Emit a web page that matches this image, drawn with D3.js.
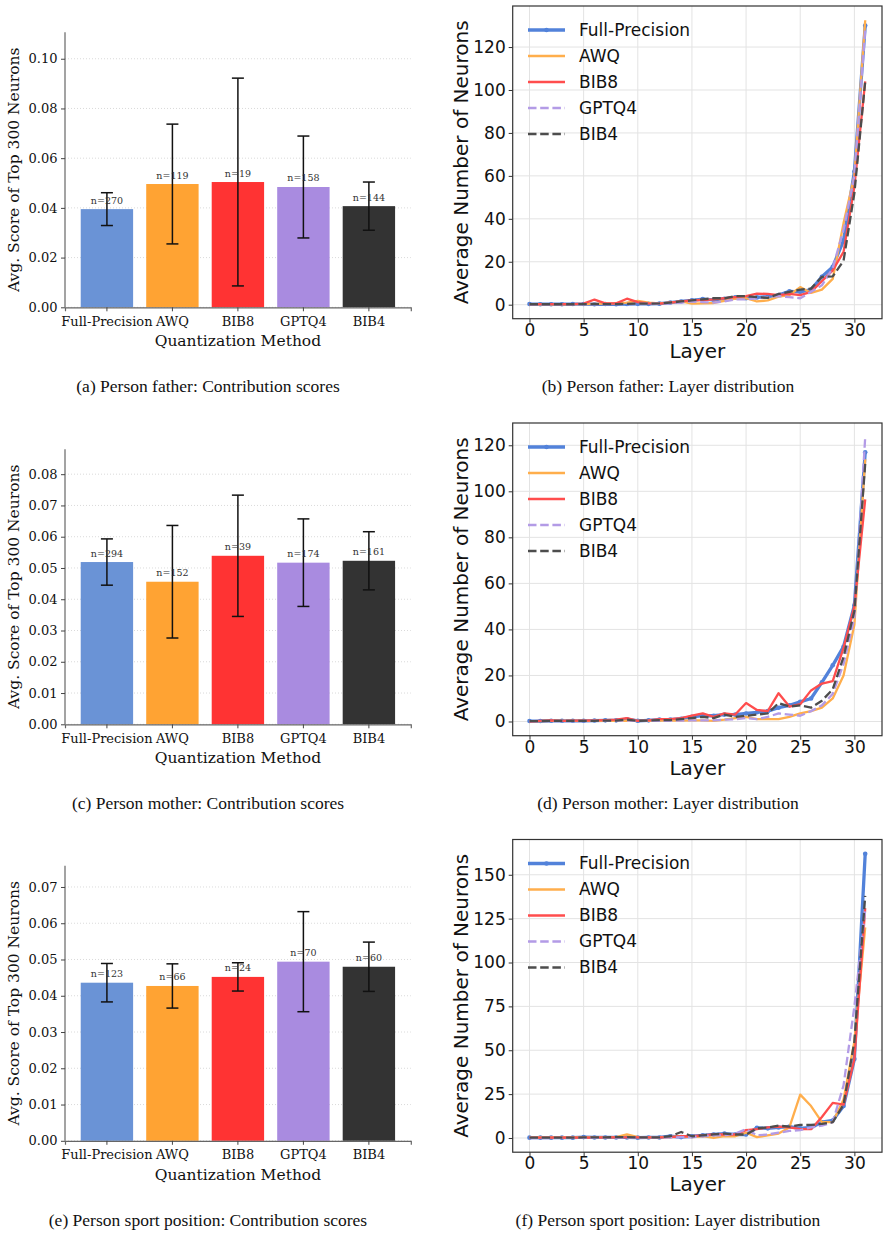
<!DOCTYPE html>
<html lang="en">
<head>
<meta charset="utf-8">
<script src="https://cdn.jsdelivr.net/npm/d3@7"></script>
<style>
  body { margin: 0; background: #fff; }
</style>
</head>
<body>
<script>
var width = 889;
var height = 1235;

var methods = ["Full-Precision", "AWQ", "BIB8", "GPTQ4", "BIB4"];
var barColours = ["#6a93d6", "#ffa333", "#ff3333", "#a98be0", "#333333"];

// contribution scores (mean, std, n) per method
var fatherScore = [0.0395, 0.0496, 0.0504, 0.0484, 0.0407];
var fatherStd   = [0.0066, 0.0241, 0.0418, 0.0205, 0.0097];
var fatherN     = [270, 119, 19, 158, 144];

var motherScore = [0.0519, 0.0456, 0.0539, 0.0517, 0.0523];
var motherStd   = [0.0074, 0.0180, 0.0194, 0.0140, 0.0093];
var motherN     = [294, 152, 39, 174, 161];

var sportScore  = [0.0436, 0.0427, 0.0452, 0.0494, 0.0480];
var sportStd    = [0.0053, 0.0061, 0.0039, 0.0138, 0.0068];
var sportN      = [123, 66, 24, 70, 60];

var fatherScoreTicks = [0, 0.02, 0.04, 0.06, 0.08, 0.10];
var motherScoreTicks = [0, 0.01, 0.02, 0.03, 0.04, 0.05, 0.06, 0.07, 0.08];
var sportScoreTicks  = [0, 0.01, 0.02, 0.03, 0.04, 0.05, 0.06, 0.07];

// layer distribution, layers 0..31
var layers = d3.range(32);
var layerTicks = [0, 5, 10, 15, 20, 25, 30];

var fatherFP    = [0.3,0.2,0.2,0.2,0.3,0.3,0.2,0.3,0.2,0.3,0.4,0.4,0.5,1.0,1.5,2.0,2.6,2.2,2.8,3.4,3.0,3.4,3.8,4.5,6.2,6.0,7.0,13.0,17.6,30.0,62.0,130.0];
var fatherAWQ   = [0.2,0.2,0.2,0.2,0.3,0.3,0.4,0.5,0.6,1.0,1.8,1.0,0.6,1.0,1.5,0.5,0.6,0.8,1.8,2.8,3.0,1.5,2.0,3.8,4.5,8.2,5.5,7.0,12.0,38.0,60.0,132.5];
var fatherBIB8  = [0.3,0.3,0.3,0.3,0.3,0.5,2.4,0.6,0.6,2.8,1.2,0.6,0.5,1.0,1.5,2.0,2.2,2.5,3.0,3.5,4.0,5.2,5.0,4.5,5.0,4.5,6.0,11.0,16.0,24.6,55.0,104.0];
var fatherGPTQ4 = [0.1,0.1,0.1,0.1,0.1,0.2,0.2,0.2,0.3,0.3,0.4,0.5,0.5,0.6,1.0,1.5,1.2,1.0,1.5,2.5,2.5,3.0,3.5,4.0,3.5,3.0,6.0,9.0,17.0,35.0,60.0,128.0];
var fatherBIB4  = [0.2,0.2,0.2,0.2,0.2,0.3,0.3,0.3,0.3,0.4,0.5,0.5,0.6,1.0,1.5,2.0,2.5,3.0,3.0,4.0,4.0,3.5,3.2,5.0,6.0,7.0,7.5,13.0,13.2,20.5,52.0,104.0];

var motherFP    = [0.2,0.2,0.3,0.3,0.3,0.3,0.4,0.5,0.5,1.0,0.3,0.5,0.8,0.8,1.2,2.0,2.5,2.5,3.0,3.0,3.5,4.0,4.5,6.0,7.0,8.5,10.0,17.0,24.4,32.5,50.5,117.0];
var motherAWQ   = [0.2,0.2,0.3,0.3,0.3,0.3,0.3,0.3,0.3,0.4,0.3,0.3,0.4,0.4,0.4,0.5,0.5,0.3,0.8,1.5,2.0,1.0,1.0,1.0,2.0,3.5,4.5,6.0,10.0,20.0,42.0,114.0];
var motherBIB8  = [0.0,0.3,0.5,0.3,0.4,0.4,0.5,0.6,0.8,1.5,0.3,0.5,1.0,1.0,1.5,2.5,3.5,2.0,3.5,3.0,8.0,5.0,4.5,12.3,6.5,7.5,13.5,16.5,17.5,32.0,50.0,96.5];
var motherGPTQ4 = [0.2,0.2,0.2,0.2,0.2,0.2,0.3,0.3,0.3,0.4,0.3,0.3,0.3,0.3,0.4,0.5,0.5,0.5,0.8,1.0,1.5,1.0,2.0,3.5,3.0,2.5,4.5,7.0,12.0,25.0,45.0,123.5];
var motherBIB4  = [0.2,0.2,0.3,0.3,0.3,0.3,0.3,0.4,0.4,0.8,0.3,0.4,0.6,0.6,1.0,1.5,2.0,1.5,3.0,2.0,2.5,3.0,3.5,8.0,6.5,7.0,6.0,9.0,14.0,28.0,48.0,112.0];

var sportFP     = [0.2,0.2,0.2,0.2,0.2,0.5,0.3,0.3,0.3,0.3,0.2,0.3,0.3,1.0,0.5,1.0,1.5,2.0,2.5,2.0,2.0,5.8,5.5,6.0,6.5,5.5,6.0,9.0,10.0,18.2,45.0,162.0];
var sportAWQ    = [0.3,0.3,0.3,0.3,0.3,0.3,0.3,0.3,0.5,2.0,0.5,0.3,0.5,0.5,1.0,0.5,1.0,0.0,1.0,1.0,3.0,0.5,1.5,2.5,6.0,24.7,18.2,9.0,9.0,22.0,55.0,120.0];
var sportBIB8   = [0.2,0.2,0.2,0.2,0.2,0.2,0.2,0.3,0.3,0.3,0.3,0.3,0.4,0.5,1.0,1.0,1.5,2.0,2.0,2.0,4.5,5.0,6.0,6.5,6.0,5.0,5.0,12.0,20.0,19.0,45.0,131.0];
var sportGPTQ4  = [0.0,0.0,0.0,0.1,0.1,0.1,0.1,0.2,0.2,0.2,0.2,0.3,0.3,0.3,0.5,0.5,1.0,1.5,1.5,2.5,5.0,1.5,2.0,3.0,4.0,4.5,6.0,7.0,9.0,30.0,75.0,130.0];
var sportBIB4   = [0.2,0.2,0.2,0.2,0.2,0.3,0.3,0.3,0.5,0.5,0.3,0.3,0.4,1.0,3.4,1.0,1.5,2.0,2.5,2.0,2.0,5.5,6.0,7.0,6.5,7.5,7.5,8.0,9.0,19.0,55.0,138.0];

var countTicks = [0, 20, 40, 60, 80, 100, 120];
var sportCountTicks = [0, 25, 50, 75, 100, 125, 150];

var lineStyles = [
  { name: "Full-Precision", colour: "#5282da", width: 3.3, dash: null,      dots: true },
  { name: "AWQ",            colour: "#ffae4c", width: 2.3, dash: null,      dots: false },
  { name: "BIB8",           colour: "#ff4d4d", width: 2.3, dash: null,      dots: false },
  { name: "GPTQ4",          colour: "#b39be6", width: 2.3, dash: "8.5,3.7", dots: false },
  { name: "BIB4",           colour: "#4d4d4d", width: 2.3, dash: "8.5,3.7", dots: false }
];

var captions = [
  ["(a) Person father: Contribution scores", "(b) Person father: Layer distribution"],
  ["(c) Person mother: Contribution scores", "(d) Person mother: Layer distribution"],
  ["(e) Person sport position: Contribution scores", "(f) Person sport position: Layer distribution"]
];

var rowOffset = [0, 417, 833.5];

var svg = d3.select("body")
            .append("svg")
            .attr("id", "canvas")
            .attr("width", width)
            .attr("height", height);

var serif = "'DejaVu Serif', serif";
var sans = "'DejaVu Sans', sans-serif";

function drawBars(dy, score, std, n, ticks) {
  var left = 65, right = 410.8, top = 32.3 + dy, bottom = 307.3 + dy;
  var g = svg.append("g");

  var ymax = d3.max(score.map(function(d, i) { return d + std[i]; })) * 1.2;
  var y = d3.scaleLinear().domain([0, ymax]).range([bottom, top]);
  var x = d3.scaleBand().domain(methods).range([left, right]).paddingInner(0.2).paddingOuter(0.24);

  // dotted grid
  g.selectAll(".grid").data(ticks).enter().append("line")
    .attr("x1", left).attr("x2", right)
    .attr("y1", function(d) { return y(d); }).attr("y2", function(d) { return y(d); })
    .attr("stroke", "#d0d0d0").attr("stroke-width", 0.8).attr("stroke-dasharray", "1,2");

  g.selectAll(".bar").data(methods).enter().append("rect")
    .attr("x", function(d) { return x(d); })
    .attr("width", x.bandwidth())
    .attr("y", function(d, i) { return y(score[i]); })
    .attr("height", function(d, i) { return bottom - y(score[i]); })
    .attr("fill", function(d, i) { return barColours[i]; });

  // error bars
  methods.forEach(function(m, i) {
    var cx = x(m) + x.bandwidth() / 2;
    var lo = y(score[i] - std[i]), hi = y(score[i] + std[i]);
    g.append("line").attr("x1", cx).attr("x2", cx).attr("y1", lo).attr("y2", hi)
      .attr("stroke", "#111").attr("stroke-width", 1.5);
    [lo, hi].forEach(function(v) {
      g.append("line").attr("x1", cx - 6).attr("x2", cx + 6).attr("y1", v).attr("y2", v)
        .attr("stroke", "#111").attr("stroke-width", 1.5);
    });
    g.append("text").attr("x", cx).attr("y", y(score[i]) - 5.5)
      .attr("text-anchor", "middle").attr("font-family", serif).attr("font-size", 9.5)
      .attr("fill", "#333").text("n=" + n[i]);
  });

  var yAxis = d3.axisLeft(y).tickValues(ticks).tickFormat(d3.format(".2f")).tickSizeOuter(0).tickSize(4).tickPadding(3.5);
  var xAxis = d3.axisBottom(x).tickSizeOuter(0).tickSize(4).tickPadding(5);

  var ya = g.append("g").attr("transform", "translate(" + left + ",0)").call(yAxis);
  ya.select(".domain").attr("stroke", "#666").attr("stroke-width", 1.2).attr("d", "M0," + top + "V" + bottom);
  var xa = g.append("g").attr("transform", "translate(0," + bottom + ")").call(xAxis);
  xa.select(".domain").attr("stroke", "#666").attr("stroke-width", 1.2);
  [ya, xa].forEach(function(a) {
    a.selectAll(".tick line").attr("stroke", "#444");
    a.selectAll("text").attr("font-family", serif).attr("font-size", 13).attr("fill", "#111");
  });

  g.append("text").attr("x", (left + right) / 2).attr("y", bottom + 39)
    .attr("text-anchor", "middle").attr("font-family", serif).attr("font-size", 15.5)
    .attr("fill", "#111").text("Quantization Method");
  g.append("text").attr("transform", "translate(19," + ((top + bottom) / 2) + ") rotate(-90)")
    .attr("text-anchor", "middle").attr("font-family", serif).attr("font-size", 15.5)
    .attr("fill", "#111").text("Avg. Score of Top 300 Neurons");
}

function drawLines(dy, series, ticks) {
  var left = 512.7, right = 882, top = 6 + dy, bottom = 318.7 + dy;
  var g = svg.append("g");

  var x = d3.scaleLinear().domain([-1.55, 32.55]).range([left, right]);
  var lo = d3.min(series, function(s) { return d3.min(s); });
  var hi = d3.max(series, function(s) { return d3.max(s); });
  var pad = (hi - lo) * 0.05;
  var y = d3.scaleLinear().domain([lo - pad, hi + pad]).range([bottom, top]);

  // grid
  g.selectAll(".gx").data(layerTicks).enter().append("line")
    .attr("x1", function(d) { return x(d); }).attr("x2", function(d) { return x(d); })
    .attr("y1", top).attr("y2", bottom).attr("stroke", "#e3e3e3").attr("stroke-width", 1);
  g.selectAll(".gy").data(ticks).enter().append("line")
    .attr("x1", left).attr("x2", right)
    .attr("y1", function(d) { return y(d); }).attr("y2", function(d) { return y(d); })
    .attr("stroke", "#e3e3e3").attr("stroke-width", 1);

  var line = d3.line().x(function(d, i) { return x(layers[i]); }).y(function(d) { return y(d); });

  series.forEach(function(s, k) {
    var st = lineStyles[k];
    g.append("path").datum(s).attr("d", line)
      .attr("fill", "none").attr("stroke", st.colour).attr("stroke-width", st.width)
      .attr("stroke-dasharray", st.dash).attr("stroke-linejoin", "round");
    if (st.dots) {
      g.selectAll(".dot" + k).data(s).enter().append("circle")
        .attr("cx", function(d, i) { return x(layers[i]); })
        .attr("cy", function(d) { return y(d); })
        .attr("r", 2.3).attr("fill", st.colour);
    }
  });

  // frame
  g.append("rect").attr("x", left).attr("y", top).attr("width", right - left).attr("height", bottom - top)
    .attr("fill", "none").attr("stroke", "#333").attr("stroke-width", 1.2);

  var xAxis = d3.axisBottom(x).tickValues(layerTicks).tickSize(4).tickPadding(1);
  var yAxis = d3.axisLeft(y).tickValues(ticks).tickSize(4).tickPadding(3);
  var xa = g.append("g").attr("transform", "translate(0," + bottom + ")").call(xAxis);
  var ya = g.append("g").attr("transform", "translate(" + left + ",0)").call(yAxis);
  [xa, ya].forEach(function(a) {
    a.select(".domain").remove();
    a.selectAll(".tick line").attr("stroke", "#333");
    a.selectAll("text").attr("font-family", sans).attr("font-size", 17).attr("fill", "#111");
  });

  g.append("text").attr("x", (left + right) / 2).attr("y", bottom + 39)
    .attr("text-anchor", "middle").attr("font-family", sans).attr("font-size", 20)
    .attr("fill", "#111").text("Layer");
  g.append("text").attr("transform", "translate(468," + ((top + bottom) / 2) + ") rotate(-90)")
    .attr("text-anchor", "middle").attr("font-family", sans).attr("font-size", 20)
    .attr("fill", "#111").text("Average Number of Neurons");

  // legend
  lineStyles.forEach(function(st, k) {
    var ly = top + 24 + 26 * k;
    g.append("line").attr("x1", 528).attr("x2", 565).attr("y1", ly).attr("y2", ly)
      .attr("stroke", st.colour).attr("stroke-width", st.width).attr("stroke-dasharray", st.dash);
    if (st.dots) {
      g.append("circle").attr("cx", 546.5).attr("cy", ly).attr("r", 2.3).attr("fill", st.colour);
    }
    g.append("text").attr("x", 579).attr("y", ly).attr("dy", "0.35em")
      .attr("font-family", sans).attr("font-size", 17).attr("fill", "#111").text(st.name);
  });
}

drawBars(rowOffset[0], fatherScore, fatherStd, fatherN, fatherScoreTicks);
drawBars(rowOffset[1], motherScore, motherStd, motherN, motherScoreTicks);
drawBars(rowOffset[2], sportScore, sportStd, sportN, sportScoreTicks);

drawLines(rowOffset[0], [fatherFP, fatherAWQ, fatherBIB8, fatherGPTQ4, fatherBIB4], countTicks);
drawLines(rowOffset[1], [motherFP, motherAWQ, motherBIB8, motherGPTQ4, motherBIB4], countTicks);
drawLines(rowOffset[2], [sportFP, sportAWQ, sportBIB8, sportGPTQ4, sportBIB4], sportCountTicks);

// captions
captions.forEach(function(c, r) {
  svg.append("text").attr("x", 208).attr("y", 392 + rowOffset[r])
    .attr("text-anchor", "middle").attr("font-family", "'Liberation Serif', serif")
    .attr("font-size", 17.5).attr("fill", "#111").text(c[0]);
  svg.append("text").attr("x", 668).attr("y", 392 + rowOffset[r])
    .attr("text-anchor", "middle").attr("font-family", "'Liberation Serif', serif")
    .attr("font-size", 17.5).attr("fill", "#111").text(c[1]);
});
</script>
</body>
</html>
